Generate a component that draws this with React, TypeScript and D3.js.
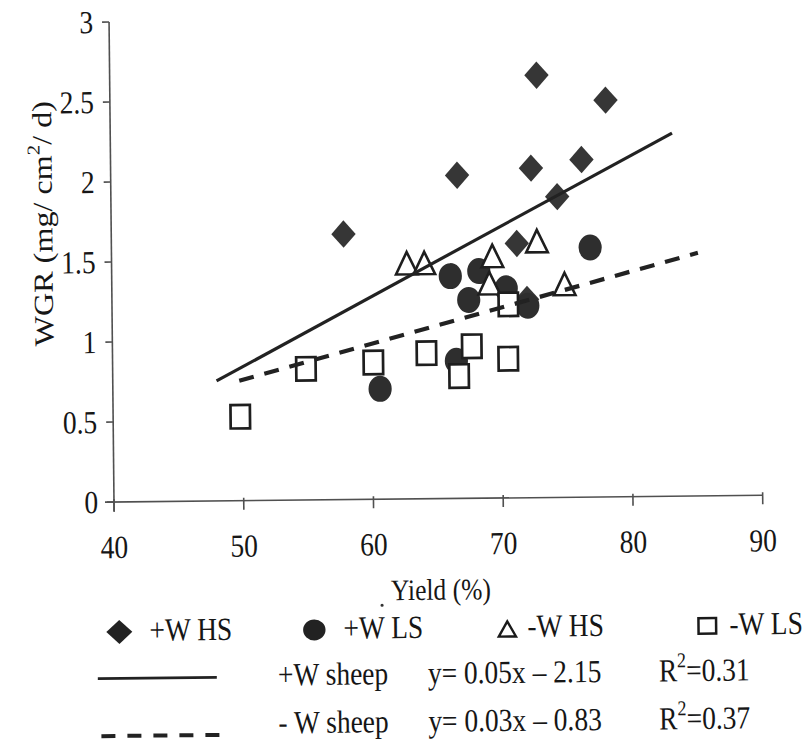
import React from 'react';
import * as d3 from 'd3';

// Axis ticks
const xTicks = [40, 50, 60, 70, 80, 90];
const yTicks = [0, 0.5, 1, 1.5, 2, 2.5, 3];
const yTickLabels = ['0', '0.5', '1', '1.5', '2', '2.5', '3'];

// Series: [yield %, WGR mg/cm²/d]
const plusWHS: [number, number][] = [
  [57.9, 1.66], [66.7, 2.02], [71.25, 1.59], [72.0, 1.24], [72.4, 2.06],
  [72.9, 2.64], [74.4, 1.88], [76.3, 2.11], [78.2, 2.48],
];
const plusWLS: [number, number][] = [
  [60.6, 0.69], [66.1, 1.39], [66.5, 0.86], [67.5, 1.24], [68.3, 1.42],
  [70.4, 1.31], [72.05, 1.2], [76.9, 1.56],
];
const minusWHS: [number, number][] = [
  [62.75, 1.48], [64.1, 1.48], [69.1, 1.35], [69.35, 1.52], [72.8, 1.61], [74.9, 1.34],
];
const minusWLS: [number, number][] = [
  [49.8, 0.525], [54.9, 0.82], [60.1, 0.855], [64.2, 0.91], [66.7, 0.765],
  [67.7, 0.95], [70.5, 0.87], [70.55, 1.21],
];

// Trend lines as drawn (end points)
const plusSheepLine: [number, number][] = [[48.0, 0.75], [83.3, 2.27]];
const minusSheepLine: [number, number][] = [[49.75, 0.75], [85.2, 1.52]];

const seriesNames = ['+W HS', '+W LS', '-W HS', '-W LS'];
const lineNames = ['+W sheep', '- W sheep'];
const equations = ['y= 0.05x \u2013 2.15', 'y= 0.03x \u2013 0.83'];
const r2Values = ['0.31', '0.37'];

const W = 805;
const H = 743;
const FONT = "'Liberation Serif', 'Times New Roman', serif";
const STRETCH = 1.17;
const FS = 27.5;
const INK = '#161616';

const x = d3.scaleLinear().domain([40, 90]).range([114, 762.7]);
const y = d3.scaleLinear().domain([0, 3]).range([502, 22]);

function Txt(props: { x: number; y: number; anchor?: string; size?: number; children: React.ReactNode }) {
  const { anchor = 'start', size = FS } = props;
  return (
    <text
      transform={`translate(${props.x},${props.y}) scale(1,${STRETCH})`}
      textAnchor={anchor}
      fontSize={size}
      fontFamily={FONT}
      fill={INK}
    >
      {props.children}
    </text>
  );
}

function diamondPath(cx: number, cy: number, hw: number, hh: number) {
  return `M${cx},${cy - hh}L${cx + hw},${cy}L${cx},${cy + hh}L${cx - hw},${cy}Z`;
}
function trianglePath(cx: number, cy: number, hw: number, hh: number) {
  return `M${cx},${cy - hh}L${cx + hw},${cy + hh}L${cx - hw},${cy + hh}Z`;
}

export default function App() {
  const line = d3.line<[number, number]>().x((d) => x(d[0])).y((d) => y(d[1]));

  const legendRowY = 632;
  const legendMarkerX = [118, 313, 506, 706];
  const legendTextX = [148, 342, 526, 728];

  return (
    <svg
      width={W}
      height={H}
      viewBox={`0 0 ${W} ${H}`}
      style={{ position: 'absolute', left: 0, top: 0, background: '#fff' }}
    >
      <rect x={0} y={0} width={W} height={H} fill="#fff" />
      <g transform="rotate(-0.59,114,502)">
        {/* axes */}
        <line x1={105} x2={x(90)} y1={y(0)} y2={y(0)} stroke="#505050" strokeWidth={1.6} />
        <line x1={x(40)} x2={x(40)} y1={y(3)} y2={512} stroke="#505050" strokeWidth={1.6} />
        {xTicks.map((t) => (
          <g key={'xt' + t}>
            <line x1={x(t)} x2={x(t)} y1={y(0) - 3} y2={y(0) + 9} stroke="#505050" strokeWidth={1.6} />
            <Txt x={x(t)} y={558} anchor="middle">{String(t)}</Txt>
          </g>
        ))}
        {yTicks.map((t, i) => (
          <g key={'yt' + t}>
            <line x1={x(40) - 7} x2={x(40)} y1={y(t)} y2={y(t)} stroke="#505050" strokeWidth={1.6} />
            <Txt x={98} y={y(t) + 11} anchor="end">{yTickLabels[i]}</Txt>
          </g>
        ))}

        {/* axis titles */}
        <text
          transform={`translate(55,223) scale(1,${STRETCH}) rotate(-90)`}
          textAnchor="middle"
          fontSize={FS}
          fontFamily={FONT}
          fill={INK}
        >
          WGR (mg/ cm<tspan fontSize={18} dy={-12}>2</tspan>
          <tspan dy={12}>/ d)</tspan>
        </text>
        <Txt x={440} y={603} anchor="middle" size={25.5}>Yield (%)</Txt>
        <circle cx={381} cy={608} r={1.6} fill="#333" />

        {/* +W HS */}
        {plusWHS.map((d, i) => (
          <path key={'d' + i} d={diamondPath(x(d[0]), y(d[1]), 12.2, 13.7)} fill="#363636" />
        ))}
        {/* +W LS */}
        {plusWLS.map((d, i) => (
          <ellipse key={'c' + i} cx={x(d[0])} cy={y(d[1])} rx={11.6} ry={13} fill="#2e2e2e" />
        ))}
        {/* -W HS */}
        {minusWHS.map((d, i) => (
          <path
            key={'t' + i}
            d={trianglePath(x(d[0]), y(d[1]) + 1, 10.8, 11.2)}
            fill="#fff"
            stroke="#1e1e1e"
            strokeWidth={2.6}
          />
        ))}
        {/* -W LS */}
        {minusWLS.map((d, i) => (
          <rect
            key={'s' + i}
            x={x(d[0]) - 9.7}
            y={y(d[1]) - 11.7}
            width={19.4}
            height={23.4}
            fill="#fff"
            stroke="#1e1e1e"
            strokeWidth={2.7}
          />
        ))}

        {/* trend lines */}
        <path d={line(plusSheepLine) || ''} fill="none" stroke="#222" strokeWidth={3.2} />
        <path
          d={line(minusSheepLine) || ''}
          fill="none"
          stroke="#222"
          strokeWidth={4.2}
          strokeDasharray="15 11"
        />

        {/* legend: markers */}
        <path d={diamondPath(legendMarkerX[0], legendRowY, 13, 12)} fill="#222" />
        <ellipse cx={legendMarkerX[1]} cy={legendRowY} rx={11.2} ry={10.5} fill="#222" />
        <path
          d={trianglePath(legendMarkerX[2], legendRowY + 1, 8.6, 7.6)}
          fill="#fff"
          stroke="#1a1a1a"
          strokeWidth={2.4}
        />
        <rect
          x={legendMarkerX[3] - 8.8}
          y={legendRowY - 7.8}
          width={17.6}
          height={15.6}
          fill="#fff"
          stroke="#1a1a1a"
          strokeWidth={2.5}
        />
        {seriesNames.map((n, i) => (
          <Txt key={'ln' + i} x={legendTextX[i]} y={641}>{n}</Txt>
        ))}

        {/* legend: lines */}
        <line x1={96} x2={215} y1={678.5} y2={678.5} stroke="#222" strokeWidth={2.8} />
        <line x1={99} x2={217} y1={736} y2={736} stroke="#222" strokeWidth={4} strokeDasharray="14 12" />
        {lineNames.map((n, i) => (
          <g key={'lr' + i}>
            <Txt x={276} y={687 + i * 48}>{n}</Txt>
            <Txt x={426} y={687 + i * 48}>{equations[i]}</Txt>
            <Txt x={657} y={687 + i * 48}>
              R<tspan fontSize={18} dy={-12}>2</tspan>
              <tspan dy={12}>={r2Values[i]}</tspan>
            </Txt>
          </g>
        ))}
      </g>
    </svg>
  );
}
